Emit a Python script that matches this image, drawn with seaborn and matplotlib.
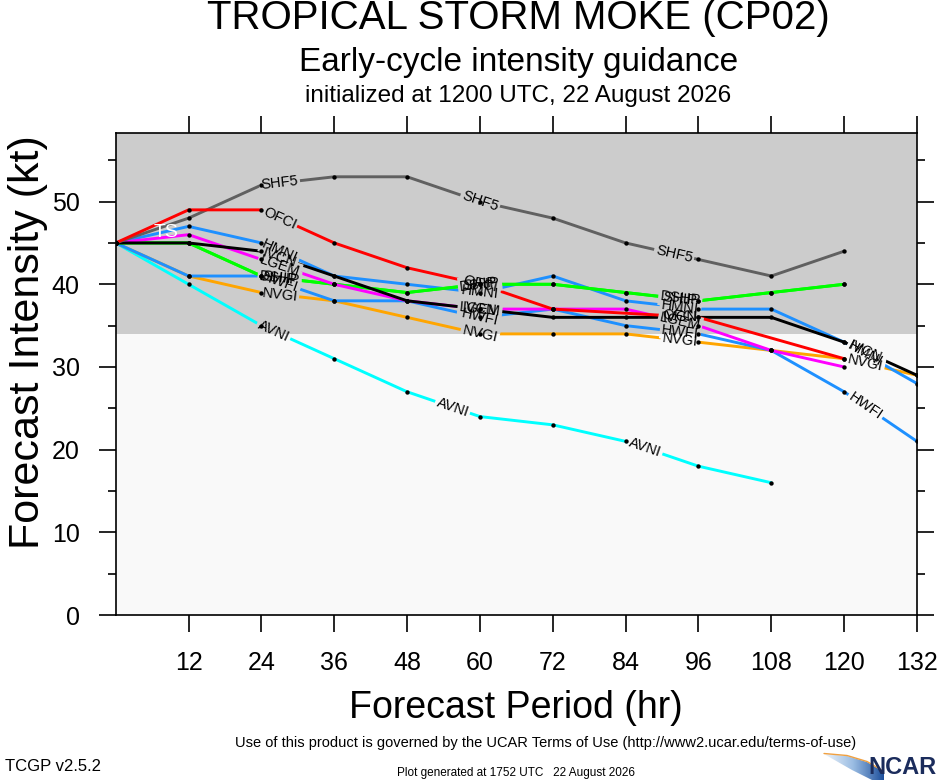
import numpy as np
import pandas as pd
import matplotlib
matplotlib.use('Agg')
import matplotlib.pyplot as plt
import seaborn as sns
from matplotlib.patches import Polygon, Rectangle

# forecast data (kt)
hours = [0, 12, 24, 36, 48, 60, 72, 84, 96, 108, 120, 132]
nan = np.nan
shf5 = [45, 48, 52, 53, 53, 50, 48, 45, 43, 41, 44, nan]
ofci = [45, 49, 49, 45, 42, 40, 37, nan, 36, nan, 31, nan]
hmni = [45, 47, 45, 41, 40, 39, 41, 38, 37, 37, 33, 28]
hwfi = [45, 41, 41, 38, 38, 36, 37, 35, 34, 32, 27, 21]
lgem = [45, 46, 43, 40, 38, 37, 37, 37, 35, 32, 30, nan]
dshp = [45, 45, 41, 40, 39, 40, 40, 39, 38, 39, 40, nan]
ship = [45, 45, 41, 40, 39, 40, 40, 39, 38, 39, 40, nan]
ivcn = [45, 45, 44, 41, 38, 37, 36, 36, 36, 36, 33, 29]
nvgi = [45, 41, 39, 38, 36, 34, 34, 34, 33, 32, 31, 29]
avni = [45, 40, 35, 31, 27, 24, 23, 21, 18, 16, nan, nan]

series = {'AVNI': avni, 'NVGI': nvgi, 'HWFI': hwfi, 'HMNI': hmni,
          'SHIP': ship, 'DSHP': dshp, 'LGEM': lgem, 'IVCN': ivcn,
          'SHF5': shf5, 'OFCI': ofci}
colors = {'AVNI': '#00ffff', 'NVGI': '#ffa500', 'HWFI': '#1e90ff',
          'HMNI': '#1e90ff', 'SHIP': '#00ff00', 'DSHP': '#00ff00',
          'LGEM': '#ff00ff', 'IVCN': '#000000', 'SHF5': '#606060',
          'OFCI': '#ff0000'}

# where the model names sit along each line (hours)
label_hours = {'AVNI': [26, 55.5, 87.2], 'SHF5': [27, 60, 92]}
default_label_hours = [27, 60, 93, 123.5]

TS_FLOOR = 34
GRAY = '#cccccc'
LIGHT = '#f9f9f9'

#long table for seaborn
rows = []
for name, vals in series.items():
    for h, v in zip(hours, vals):
        if not np.isnan(v):
            rows.append((name, h, v))
df = pd.DataFrame(rows, columns=['model', 'hour', 'vmax'])

sns.set_style('ticks')
plt.rcParams['font.family'] = ['Liberation Sans', 'DejaVu Sans']
plt.rcParams.update({'text.color': 'black', 'axes.edgecolor': 'black',
                     'xtick.color': 'black', 'ytick.color': 'black'})

fig = plt.figure(figsize=(9.4, 7.8), dpi=100)
ax = fig.add_axes([0.1231, 0.2115, 0.8524, 0.6175])
ax.set_facecolor(LIGHT)
ax.axhspan(TS_FLOOR, 64, color=GRAY, zorder=0, lw=0)

sns.lineplot(data=df, x='hour', y='vmax', hue='model', hue_order=list(series),
             palette=colors, estimator=None, sort=True, lw=2.1, legend=False,
             ax=ax, zorder=2)
sns.scatterplot(data=df, x='hour', y='vmax', color='black', s=10,
                linewidth=0, ax=ax, zorder=5)

ax.set_xlim(0, 132)
ax.set_ylim(0, 58.25)
ax.set_xticks(range(12, 133, 12))
ax.set_yticks(range(0, 51, 10))
ax.set_yticks(range(5, 56, 10), minor=True)
ax.tick_params(which='major', direction='out', length=12, width=1.2,
               labelsize=18, top=True, right=True, pad=14)
ax.tick_params(which='minor', direction='out', length=6, width=1.2,
               right=True)
ax.set_xlabel('')
ax.set_ylabel('')
for sp in ax.spines.values():
    sp.set_linewidth(1.2)
    sp.set_visible(True)

# clip regions so a gap box takes the colour of whatever band it sits on
upper = Rectangle((0, TS_FLOOR), 132, 64, transform=ax.transData)
lower = Rectangle((0, 0), 132, TS_FLOOR, transform=ax.transData)

# line labels, with a gap cut into the line under each one
for name, vals in series.items():
    xs = np.array([h for h, v in zip(hours, vals) if not np.isnan(v)], float)
    ys = np.array([v for v in vals if not np.isnan(v)], float)
    for h in label_hours.get(name, default_label_hours):
        if h > xs[-1] - 4:
            continue
        y = np.interp(h, xs, ys)
        i = np.searchsorted(xs, h) - 1
        p0 = ax.transData.transform((xs[i], ys[i]))
        p1 = ax.transData.transform((xs[i + 1], ys[i + 1]))
        ang = np.degrees(np.arctan2(p1[1] - p0[1], p1[0] - p0[0]))
        for bg, clip in ((GRAY, upper), (LIGHT, lower)):
            t = ax.text(h, y, name, fontsize=10.5, color='none', rotation=ang,
                        rotation_mode='anchor', ha='center', va='center',
                        zorder=3, clip_on=True,
                        bbox=dict(boxstyle='square,pad=0.12', fc=bg, ec='none'))
            t.set_clip_path(clip)
            t.get_bbox_patch().set_clip_on(True)
            t.get_bbox_patch().set_clip_path(clip)
        ax.text(h, y, name, fontsize=10.5, color='black', rotation=ang,
                rotation_mode='anchor', ha='center', va='center', zorder=6)

ax.text(8.3, 46.3, 'TS', color='white', fontsize=14, ha='center',
        va='center', zorder=6)

# titles and axis names
fig.text(0.551, 0.977, 'TROPICAL STORM MOKE (CP02)', fontsize=29,
         ha='center', va='center')
fig.text(0.552, 0.9205, 'Early-cycle intensity guidance', fontsize=24,
         ha='center', va='center')
fig.text(0.551, 0.877, 'initialized at 1200 UTC, 22 August 2026', fontsize=17.5,
         ha='center', va='center')
fig.text(0.549, 0.0923, 'Forecast Period (hr)', fontsize=27, ha='center',
         va='center')
fig.text(0.030, 0.5615, 'Forecast Intensity (kt)', fontsize=31, ha='center',
         va='center', rotation=90)

# footer
fig.text(0.58, 0.0474, 'Use of this product is governed by the UCAR Terms of Use '
         '(http://www2.ucar.edu/terms-of-use)', fontsize=10.5, ha='center',
         va='center')
fig.text(0.005, 0.0167, 'TCGP v2.5.2', fontsize=12, ha='left', va='center')
fig.text(0.549, 0.009, 'Plot generated at 1752 UTC   22 August 2026',
         fontsize=8.5, ha='center', va='center')

# NCAR mark
fig.text(0.996, 0.001, 'NCAR', fontsize=17, fontweight='bold',
         color='#1b2c5c', ha='right', va='bottom')
lax = fig.add_axes([822 / 940, 0, 62 / 940, 28 / 780])
lax.set_xlim(0, 62)
lax.set_ylim(0, 28)
lax.axis('off')
grad = np.linspace(0, 1, 256).reshape(1, -1)
im = lax.imshow(grad, extent=(0, 62, 0, 28), aspect='auto',
                cmap=sns.blend_palette(['#f4f8fc', '#9bbde3', '#1d4f9c'],
                                       as_cmap=True))
wedge = Polygon([(2, 26), (25, 24), (45, 18), (62, 8), (62, 0), (50, 0),
                 (30, 10)], closed=True, transform=lax.transData)
im.set_clip_path(wedge)
lax.plot([2, 25, 45, 62], [26.5, 24.5, 18.5, 8.5], color='#f0a040', lw=1)

fig.savefig('out.png', dpi=100)
